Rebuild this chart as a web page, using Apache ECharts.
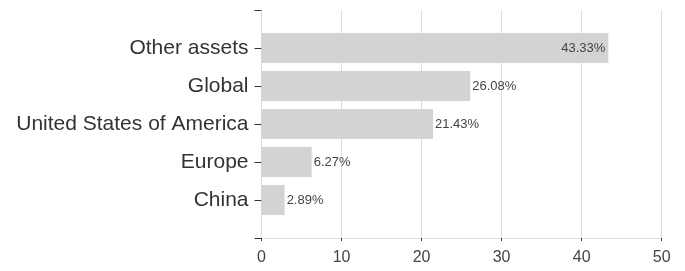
<!DOCTYPE html>
<html>
<head>
<meta charset="utf-8">
<script src="https://cdn.jsdelivr.net/npm/echarts@6/dist/echarts.min.js"></script>
<style>html,body{margin:0;padding:0;background:#fff;}#c{width:685px;height:271px;}</style>
</head>
<body>
<div id="c"></div>
<script>
const categories = ['Other assets', 'Global', 'United States of America', 'Europe', 'China'];
const values = [43.33, 26.08, 21.43, 6.27, 2.89];
const xTicks = [0, 10, 20, 30, 40, 50];

const cats = [''].concat(categories, ['']);
const data = [null].concat(values.map((v, i) => ({
  value: v,
  label: i === 0 ? { position: 'insideRight', distance: 3 } : { position: 'right', distance: 2 }
})), [null]);

const chart = echarts.init(document.getElementById('c'), null, { renderer: 'canvas' });
chart.setOption({
  animation: false,
  backgroundColor: '#fff',
  textStyle: { fontFamily: 'Liberation Sans, Arial, sans-serif' },
  grid: { left: 261.5, right: 23.3, top: 10, bottom: 33, containLabel: false },
  xAxis: {
    type: 'value',
    min: xTicks[0], max: xTicks[xTicks.length - 1], interval: 10,
    axisLine: { show: true, lineStyle: { color: '#dcdcdc', width: 1 } },
    axisTick: { show: true, length: 3, lineStyle: { color: '#444' } },
    splitLine: { show: true, lineStyle: { color: '#dcdcdc', width: 1 } },
    axisLabel: { fontSize: 16, color: '#444', margin: 12, fontFamily: 'Liberation Sans, Arial, sans-serif' }
  },
  yAxis: {
    type: 'category',
    data: cats,
    inverse: true,
    boundaryGap: false,
    axisLine: { show: true, lineStyle: { color: '#dcdcdc', width: 1 } },
    axisTick: { show: true, length: 7, alignWithLabel: true, lineStyle: { color: '#333' } },
    splitLine: { show: false },
    axisLabel: { fontSize: 21, color: '#333', margin: 13, interval: 0, fontFamily: 'Liberation Sans, Arial, sans-serif' }
  },
  series: [{
    type: 'bar',
    data: data,
    barWidth: 30,
    itemStyle: { color: '#d3d3d3' },
    label: {
      show: true,
      fontSize: 13,
      color: '#444',
      fontFamily: 'Liberation Sans, Arial, sans-serif',
      formatter: p => p.value.toFixed(2) + '%'
    }
  }]
});
</script>
</body>
</html>
